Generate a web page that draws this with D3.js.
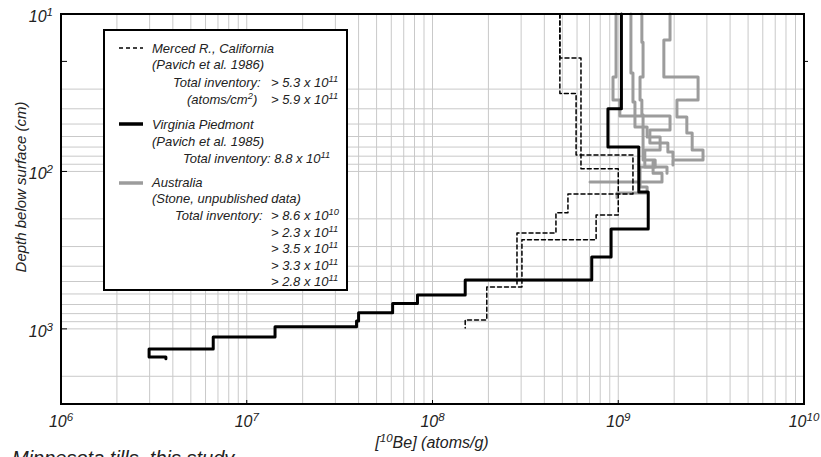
<!DOCTYPE html>
<html>
<head>
<meta charset="utf-8">
<script src="https://cdn.jsdelivr.net/npm/d3@7/dist/d3.min.js"></script>
<style>
body { margin: 0; background: #fff; }
text { font-family: "Liberation Sans", Arial, sans-serif; font-style: italic; fill: #222; }
</style>
</head>
<body>
<div id="chart"></div>
<script>
// axis ticks (decades)
var xTicks = [1e6, 1e7, 1e8, 1e9, 1e10];
var yTicks = [10, 100, 1000];

// Virginia Piedmont: concentration per sample, depth boundaries (cm)
var virginiaConc = [1.04e9, 8.8e8, 1.29e9, 1.45e9, 9.15e8, 7.2e8, 1.5e8, 8.3e7, 6.1e7, 4.0e7, 3.9e7, 1.42e7, 6.6e6, 2.98e6, 3.67e6];
var virginiaDepth = [10, 40, 70, 135, 232, 350, 490, 610, 690, 790, 890, 970, 1125, 1340, 1507, 1550];

// Merced R. (two profiles)
var mercedAConc = [4.85e8, 5.93e8, 1.2e9, 5.36e8, 4.62e8, 2.85e8];
var mercedADepth = [10, 32, 78.5, 139, 183, 246, 526];
var mercedBConc = [4.85e8, 6.3e8, 1.0e9, 7.6e8, 3.03e8, 1.96e8, 1.5e8];
var mercedBDepth = [10, 19, 96, 189, 272, 541, 877, 986];

// Australia (five profiles)
var aus1Conc = [1.17e9, 1.2e9, 1.23e9, 1.43e9, 1.68e9, 1.39e9, 1.83e9];
var aus1Depth = [10, 23.7, 36.2, 52.2, 60.4, 73.1, 93.6, 102.5];
var aus2Conc = [1.34e9, 1.36e9, 1.31e9, 1.34e9, 1.36e9, 1.58e9, 1.31e9, 1.43e9, 9.85e8];
var aus2Depth = [10, 15.1, 25.1, 35.2, 43.7, 84.5, 93.6, 125.4, 137.1, 147.1];
var aus3Conc = [1.9e9, 1.76e9, 2.69e9, 2.07e9, 2.34e9, 2.5e9, 2.86e9, 1.97e9];
var aus3Depth = [10, 14.6, 25.1, 35.2, 45.1, 57, 73.1, 84.5, 91];
var aus4Conc = [9.73e8, 9.37e8, 1.02e9, 1.9e9, 1.48e9, 1.85e9, 1.97e9];
var aus4Depth = [10, 25.1, 35.2, 44.4, 54.5, 65.9, 75.2, 82.2];
var aus5Conc = [1.54e9, 1.72e9, 7.05e8];
var aus5Depth = [87.1, 102.5, 116.7, 116.7];

// legend inventories [mantissa, exponent]
var mercedTotals = [[5.3, 11], [5.9, 11]];
var virginiaTotals = [[8.8, 11]];
var australiaTotals = [[8.6, 10], [2.3, 11], [3.5, 11], [3.3, 11], [2.8, 11]];

var width = 821, height = 457;
var svg = d3.select("#chart").append("svg")
	.attr("width", width)
	.attr("height", height);

var x = d3.scaleLog().domain([1e6, 1e10]).range([61, 804]);
var y = d3.scaleLog().domain([10, 3000]).range([14, 404]);

var grey = "#9c9c9c";

function drawGrid() {
	var g = svg.append("g");
	for (var e = 6; e < 10; e++) {
		for (var k = 1; k < 10; k++) {
			var v = k * Math.pow(10, e);
			g.append("line")
				.attr("x1", x(v)).attr("x2", x(v))
				.attr("y1", y.range()[0]).attr("y2", y.range()[1])
				.attr("stroke", "#c9c9c9").attr("stroke-width", 1);
		}
	}
	for (var e = 1; e < 4; e++) {
		for (var k = 1; k < 10; k++) {
			var v = k * Math.pow(10, e);
			if (v > 3000 || v == 20) continue; // no line at 20 in the original
			g.append("line")
				.attr("x1", x.range()[0]).attr("x2", x.range()[1])
				.attr("y1", y(v)).attr("y2", y(v))
				.attr("stroke", "#c9c9c9").attr("stroke-width", 1);
		}
	}
}

function stepPoints(conc, depth) {
	var pts = [];
	conc.forEach(function(c, i) {
		pts.push([c, depth[i]]);
		pts.push([c, depth[i + 1]]);
	});
	return pts;
}

var line = d3.line()
	.x(function(d) { return x(d[0]); })
	.y(function(d) { return y(d[1]); });

function drawProfile(conc, depth, color, w, dash) {
	svg.append("path")
		.attr("d", line(stepPoints(conc, depth)))
		.attr("fill", "none")
		.attr("stroke", color)
		.attr("stroke-width", w)
		.attr("stroke-linejoin", "round")
		.attr("stroke-linecap", "round")
		.attr("stroke-dasharray", dash || null);
}

// text with superscripts: parts = [[string, isSup], ...]
function richText(parent, px, py, parts, size, anchor) {
	var t = parent.append("text")
		.attr("x", px).attr("y", py)
		.attr("font-size", size)
		.attr("text-anchor", anchor || "start");
	var up = false;
	parts.forEach(function(p) {
		var s = t.append("tspan").text(p[0]);
		if (p[1] && !up) {
			s.attr("dy", -size * 0.38).attr("font-size", size * 0.72);
			up = true;
		} else if (!p[1] && up) {
			s.attr("dy", size * 0.38);
			up = false;
		}
	});
	return t;
}

function drawAxes() {
	var g = svg.append("g");
	g.append("rect")
		.attr("x", x.range()[0]).attr("y", y.range()[0])
		.attr("width", x.range()[1] - x.range()[0])
		.attr("height", y.range()[1] - y.range()[0])
		.attr("fill", "none").attr("stroke", "#000").attr("stroke-width", 2);

	xTicks.forEach(function(v) {
		g.append("line")
			.attr("x1", x(v)).attr("x2", x(v))
			.attr("y1", y.range()[1]).attr("y2", y.range()[1] - 4)
			.attr("stroke", "#000").attr("stroke-width", 1);
		richText(g, x(v), 427, [["10"], [String(Math.round(Math.log10(v))), 1]], 16, "middle");
	});
	yTicks.concat([20]).forEach(function(v) {
		g.append("line")
			.attr("x1", x.range()[0]).attr("x2", x.range()[0] + 6)
			.attr("y1", y(v)).attr("y2", y(v))
			.attr("stroke", "#000").attr("stroke-width", 1);
	});
	g.append("line")
		.attr("x1", x.range()[1]).attr("x2", x.range()[1] + 4)
		.attr("y1", y(20)).attr("y2", y(20))
		.attr("stroke", "#000").attr("stroke-width", 1);
	yTicks.forEach(function(v) {
		richText(g, 53, y(v) + 8, [["10"], [String(Math.round(Math.log10(v))), 1]], 16, "end");
	});

	richText(g, 432, 448, [["["], ["10", 1], ["Be] (atoms/g)"]], 16, "middle");
	g.append("text")
		.attr("transform", "translate(26,187) rotate(-90)")
		.attr("text-anchor", "middle")
		.attr("font-size", 15)
		.text("Depth below surface (cm)");
}

function fmt(t) {
	return t[0].toFixed(1) + " x 10";
}

function drawLegend() {
	var g = svg.append("g");
	g.append("rect")
		.attr("x", 104).attr("y", 30)
		.attr("width", 243).attr("height", 260)
		.attr("fill", "#fff").attr("stroke", "#000").attr("stroke-width", 2);

	g.append("line").attr("x1", 119).attr("x2", 143).attr("y1", 48).attr("y2", 48)
		.attr("stroke", "#000").attr("stroke-width", 1.5).attr("stroke-dasharray", "4,3");
	g.append("line").attr("x1", 119).attr("x2", 143).attr("y1", 124).attr("y2", 124)
		.attr("stroke", "#000").attr("stroke-width", 3.5);
	g.append("line").attr("x1", 119).attr("x2", 143).attr("y1", 183).attr("y2", 183)
		.attr("stroke", grey).attr("stroke-width", 3.5);

	var fs = 13, gt = 271;
	richText(g, 152, 53, [["Merced R., California"]], fs);
	richText(g, 152, 69, [["(Pavich et al. 1986)"]], fs);
	richText(g, 173, 87, [["Total inventory: "]], fs);
	richText(g, gt, 87, [["> " + fmt(mercedTotals[0])], [String(mercedTotals[0][1]), 1]], fs);
	richText(g, 187, 104, [["(atoms/cm"], ["2", 1], [")"]], fs);
	richText(g, gt, 104, [["> " + fmt(mercedTotals[1])], [String(mercedTotals[1][1]), 1]], fs);

	richText(g, 152, 129, [["Virginia Piedmont"]], fs);
	richText(g, 152, 146, [["(Pavich et al.  1985)"]], fs);
	richText(g, 183, 163, [["Total inventory: " + fmt(virginiaTotals[0])], [String(virginiaTotals[0][1]), 1]], fs);

	richText(g, 152, 187, [["Australia"]], fs);
	richText(g, 152, 203, [["(Stone, unpublished data)"]], fs);
	richText(g, 175, 220, [["Total inventory: "]], fs);
	australiaTotals.forEach(function(t, i) {
		richText(g, gt, 220 + i * 16.5, [["> " + fmt(t)], [String(t[1]), 1]], fs);
	});
}

drawGrid();
drawProfile(aus1Conc, aus1Depth, grey, 3);
drawProfile(aus2Conc, aus2Depth, grey, 3);
drawProfile(aus3Conc, aus3Depth, grey, 3);
drawProfile(aus4Conc, aus4Depth, grey, 3);
drawProfile(aus5Conc, aus5Depth, grey, 3);
drawProfile(mercedAConc, mercedADepth, "#000", 1.5, "4,3");
drawProfile(mercedBConc, mercedBDepth, "#000", 1.5, "4,3");
drawProfile(virginiaConc, virginiaDepth, "#000", 3);
drawAxes();
drawLegend();
svg.append("text")
	.attr("x", 12).attr("y", 465)
	.attr("font-size", 20)
	.text("Minnesota tills, this study");
</script>
</body>
</html>
